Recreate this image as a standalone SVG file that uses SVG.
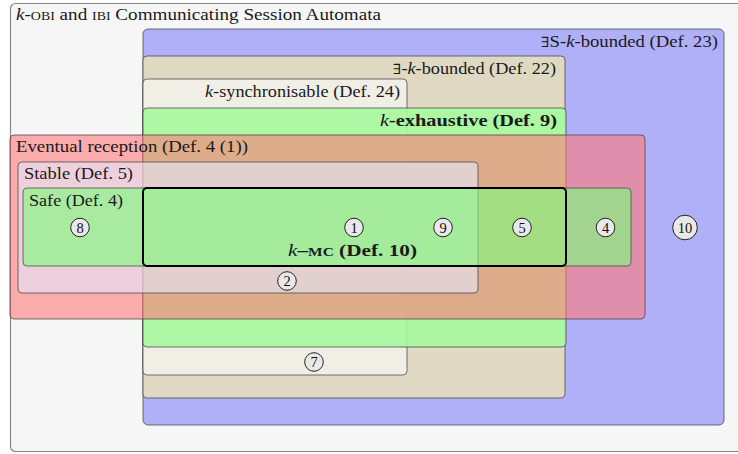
<svg xmlns="http://www.w3.org/2000/svg" width="738" height="454" viewBox="0 0 738 454">
<style>
text{font-family:"Liberation Serif","Times New Roman",serif;font-size:16.5px;fill:#1a1a1a}
.b{font-weight:bold}
.box{stroke:#444;stroke-opacity:0.75;stroke-width:1}
.num{font-size:14.5px;text-anchor:middle;fill:#111}
.c{fill:#e9e9e9;stroke:#222;stroke-width:1}
.sc{font-variant:small-caps}
.ex{font-family:"DejaVu Serif",serif;font-size:14px}
</style>
<g id="outer">
<rect x="10.5" y="3.5" width="735" height="448" rx="5" fill="#f6f6f6" stroke="#888" stroke-width="1.2"/>
<text x="16" y="19.5" textLength="365" lengthAdjust="spacingAndGlyphs"><tspan font-style="italic">k</tspan>-<tspan class="sc">obi</tspan> and <tspan class="sc">ibi</tspan> Communicating Session Automata</text>
</g>
<g id="exists-s-k-bounded">
<rect class="box" x="143" y="29" width="581" height="396" rx="5" fill="#b0b0f8"/>
<text x="541" y="47" textLength="177" lengthAdjust="spacingAndGlyphs"><tspan class="ex">∃</tspan>S-<tspan font-style="italic">k</tspan>-bounded (Def. 23)</text>
</g>
<g id="exists-k-bounded">
<rect class="box" x="143" y="56" width="422" height="342" rx="4" fill="#dfd9c3"/>
<text x="393" y="74" textLength="163" lengthAdjust="spacingAndGlyphs"><tspan class="ex">∃</tspan>-<tspan font-style="italic">k</tspan>-bounded (Def. 22)</text>
</g>
<g id="k-synchronisable">
<rect class="box" x="143" y="79" width="264" height="296" rx="4" fill="#f1efe5"/>
<text x="205" y="97" textLength="195" lengthAdjust="spacingAndGlyphs"><tspan font-style="italic">k</tspan>-synchronisable (Def. 24)</text>
</g>
<g id="k-exhaustive">
<rect class="box" x="143" y="108" width="423" height="239" rx="4" fill="#a8f8a0" fill-opacity="0.92"/>
<text class="b" x="380" y="126" textLength="177" lengthAdjust="spacingAndGlyphs"><tspan font-style="italic" font-weight="normal">k</tspan>-exhaustive (Def. 9)</text>
</g>
<g id="eventual-reception">
<rect class="box" x="10" y="135" width="635" height="184" rx="4" fill="#ff7a7a" fill-opacity="0.6"/>
<text x="16" y="152" textLength="232" lengthAdjust="spacingAndGlyphs">Eventual reception (Def. 4 (1))</text>
</g>
<g id="stable">
<rect class="box" x="18" y="162" width="460" height="131" rx="4" fill="#e4ebff" fill-opacity="0.58"/>
<text x="24" y="179" textLength="109" lengthAdjust="spacingAndGlyphs">Stable (Def. 5)</text>
</g>
<g id="safe">
<rect class="box" x="23" y="188" width="608" height="78" rx="4" fill="#82f980" fill-opacity="0.65"/>
<text x="29" y="206" textLength="94" lengthAdjust="spacingAndGlyphs">Safe (Def. 4)</text>
</g>
<g id="k-mc">
<rect x="143" y="188" width="423" height="78" rx="4" fill="none" stroke="#000" stroke-width="2"/>
<text class="b" x="288" y="256" textLength="129" lengthAdjust="spacingAndGlyphs"><tspan font-style="italic" font-weight="normal">k</tspan>–<tspan class="sc">mc</tspan> (Def. 10)</text>
</g>
<g id="region-labels">
<circle class="c" cx="80" cy="227.5" r="9.3"/><text class="num" x="80" y="232.5">8</text>
<circle class="c" cx="354" cy="227.5" r="9.3"/><text class="num" x="354" y="232.5">1</text>
<circle class="c" cx="443" cy="227.5" r="9.3"/><text class="num" x="443" y="232.5">9</text>
<circle class="c" cx="522" cy="227.5" r="9.3"/><text class="num" x="522" y="232.5">5</text>
<circle class="c" cx="605.5" cy="227.5" r="9.3"/><text class="num" x="605.5" y="232.5">4</text>
<circle class="c" cx="685" cy="227.5" r="12.3"/><text class="num" x="685" y="232.5">10</text>
<circle class="c" cx="287" cy="281" r="9.3"/><text class="num" x="287" y="286">2</text>
<circle class="c" cx="314" cy="362" r="9.3"/><text class="num" x="314" y="367">7</text>
</g>
</svg>
